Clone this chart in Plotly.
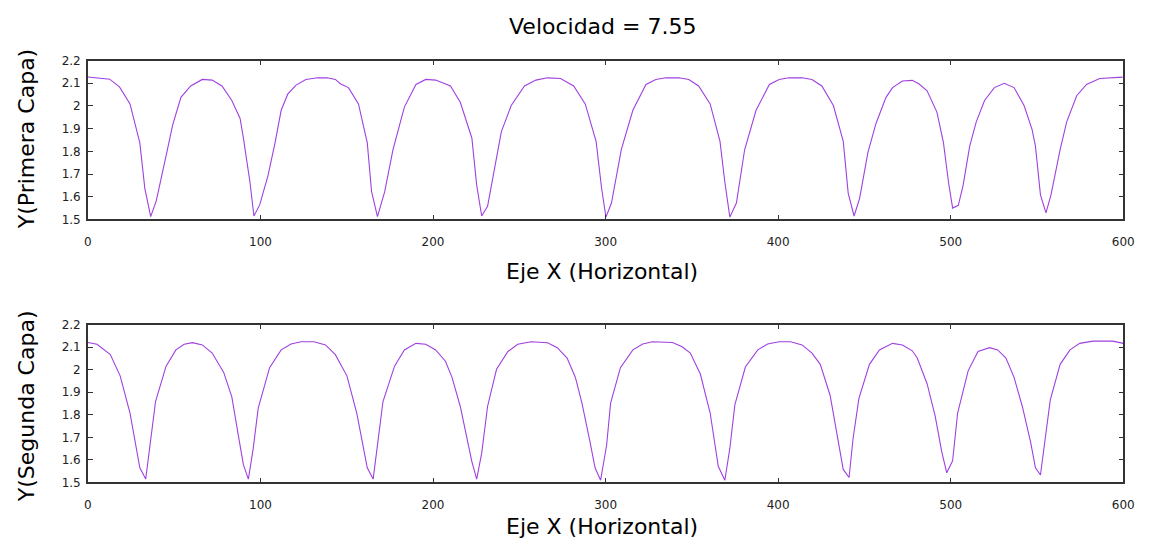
import plotly.graph_objects as go

# ---- data ----
x_primera = [0, 12.6, 18.3, 24.4, 30.1, 33.0, 36.4, 39.6, 45.3, 49.1, 53.9, 59.6, 66.3, 72.0, 77.7,
             83.4, 88.2, 90.1, 93.9, 96.2, 99.6, 104.4, 108.5, 112.0, 115.8, 120.6, 126.3, 133.0,
             138.7, 143.4, 146.3, 151.0, 156.8, 161.9, 164.4, 167.8, 172.0, 176.8, 183.4, 190.1,
             195.8, 201.5, 210.1, 215.8, 222.5, 225.3, 228.2, 231.6, 239.6, 245.3, 253.0, 259.6,
             266.3, 273.9, 281.5, 288.2, 294.5, 297.7, 300.2, 303.4, 309.1, 315.8, 323.4, 329.1,
             334.9, 342.5, 348.2, 353.9, 360.6, 366.3, 369.1, 372.0, 375.8, 380.6, 387.2, 394.9,
             400.6, 406.3, 413.9, 419.6, 425.3, 432.0, 437.7, 440.6, 444.0, 447.2, 452.0, 456.7,
             462.5, 466.3, 472.0, 477.7, 481.5, 486.3, 492.0, 495.8, 498.7, 501.1, 504.4, 507.2,
             511.0, 514.8, 519.6, 525.3, 531.0, 536.7, 542.5, 547.2, 549.1, 552.0, 555.2, 558.1,
             563.4, 567.2, 573.0, 578.7, 586.3, 592.0, 599.6]
y_primera = [2.128, 2.118, 2.084, 2.009, 1.837, 1.636, 1.512, 1.582, 1.780, 1.916, 2.038, 2.088, 2.117, 2.114, 2.088,
             2.024, 1.945, 1.859, 1.665, 1.515, 1.565, 1.694, 1.840, 1.981, 2.052, 2.092, 2.117, 2.124,
             2.124, 2.117, 2.098, 2.081, 2.009, 1.837, 1.622, 1.512, 1.622, 1.808, 1.995, 2.095,
             2.117, 2.114, 2.088, 2.016, 1.859, 1.651, 1.515, 1.558, 1.887, 2.002, 2.088, 2.114,
             2.124, 2.121, 2.088, 2.009, 1.844, 1.636, 1.510, 1.572, 1.808, 1.981, 2.095, 2.117,
             2.124, 2.124, 2.117, 2.088, 2.009, 1.844, 1.665, 1.510, 1.572, 1.808, 1.981, 2.095,
             2.117, 2.124, 2.124, 2.117, 2.088, 2.002, 1.845, 1.615, 1.515, 1.593, 1.794, 1.923,
             2.038, 2.081, 2.110, 2.113, 2.098, 2.067, 1.973, 1.837, 1.665, 1.550, 1.562, 1.651,
             1.823, 1.930, 2.024, 2.081, 2.100, 2.081, 2.002, 1.895, 1.823, 1.608, 1.529, 1.608,
             1.808, 1.930, 2.045, 2.095, 2.121, 2.124, 2.127]

x_segunda = [0, 5.3, 13.0, 18.7, 24.4, 30.1, 33.5, 35.8, 39.2, 45.3, 51.0, 55.8, 60.6, 66.3, 72.0,
             78.7, 83.4, 87.2, 90.1, 93.0, 95.8, 98.7, 105.3, 112.0, 117.7, 123.4, 131.0, 137.7,
             143.4, 150.1, 155.8, 161.9, 165.3, 171.0, 177.7, 183.4, 190.1, 195.8, 201.5, 207.2,
             211.0, 215.8, 222.5, 225.3, 228.2, 231.6, 236.8, 243.4, 249.1, 256.8, 266.3, 272.0,
             277.7, 282.5, 286.3, 291.0, 293.9, 297.1, 300.6, 302.9, 308.6, 315.8, 321.5, 327.2,
             338.7, 344.4, 349.1, 354.9, 360.6, 365.3, 369.1, 372.0, 374.9, 381.0, 388.2, 393.9,
             400.6, 407.2, 413.9, 419.6, 424.4, 430.1, 434.9, 437.7, 441.1, 443.4, 446.8, 450.1,
             452.9, 458.7, 466.3, 472.0, 477.7, 480.6, 486.3, 491.0, 494.8, 497.7, 501.1, 504.0,
             510.1, 515.8, 522.5, 527.2, 532.0, 536.7, 541.5, 546.3, 549.1, 552.0, 554.3, 557.7,
             563.4, 569.1, 574.8, 582.5, 593.9, 600.0]
y_segunda = [2.121, 2.113, 2.067, 1.973, 1.808, 1.565, 1.515, 1.665, 1.859, 2.016, 2.088, 2.113, 2.120, 2.110, 2.074,
             1.988, 1.880, 1.708, 1.579, 1.515, 1.651, 1.830, 2.009, 2.088, 2.114, 2.124, 2.124, 2.110,
             2.067, 1.973, 1.808, 1.565, 1.515, 1.859, 2.016, 2.088, 2.117, 2.113, 2.088, 2.038,
             1.966, 1.837, 1.593, 1.515, 1.630, 1.837, 2.002, 2.081, 2.113, 2.124, 2.120, 2.098,
             2.052, 1.966, 1.852, 1.679, 1.565, 1.510, 1.665, 1.852, 2.009, 2.088, 2.114, 2.124,
             2.121, 2.102, 2.074, 1.981, 1.808, 1.572, 1.510, 1.651, 1.844, 2.012, 2.088, 2.114,
             2.124, 2.124, 2.110, 2.074, 2.024, 1.887, 1.679, 1.558, 1.522, 1.694, 1.873, 1.959,
             2.024, 2.088, 2.117, 2.110, 2.084, 2.052, 1.938, 1.794, 1.636, 1.543, 1.596, 1.808,
             1.995, 2.081, 2.098, 2.088, 2.052, 1.966, 1.837, 1.679, 1.565, 1.533, 1.665, 1.866,
             2.024, 2.088, 2.117, 2.127, 2.127, 2.117]

x_ticks = [0, 100, 200, 300, 400, 500, 600]
y_ticks = [1.5, 1.6, 1.7, 1.8, 1.9, 2.0, 2.1, 2.2]
y_tick_labels = ["1.5", "1.6", "1.7", "1.8", "1.9", "2", "2.1", "2.2"]

titulo = "Velocidad = 7.55"
titulo_x = "Eje X (Horizontal)"
titulo_y1 = "Y(Primera Capa)"
titulo_y2 = "Y(Segunda Capa)"

# ---- figure ----
W, H = 1156, 546
FONT = "DejaVu Sans"
LINE_COLOR = "#a040e0"
AXIS_COLOR = "#333333"
BIG = 22
SMALL = 12

fig = go.Figure()
fig.add_trace(go.Scatter(x=x_primera, y=y_primera, mode="lines",
                         line=dict(color=LINE_COLOR, width=1.1), xaxis="x", yaxis="y",
                         showlegend=False, hoverinfo="skip"))
fig.add_trace(go.Scatter(x=x_segunda, y=y_segunda, mode="lines",
                         line=dict(color=LINE_COLOR, width=1.1), xaxis="x2", yaxis="y2",
                         showlegend=False, hoverinfo="skip"))

xdom = [85 / W, 1134 / W]
ydom1 = [1 - 218 / H, 1 - 55 / H]
ydom2 = [1 - 488 / H, 1 - 326 / H]

xax = dict(range=[0, 600], tickvals=x_ticks, ticktext=[str(v) for v in x_ticks],
           ticks="inside", ticklen=5, tickcolor=AXIS_COLOR, tickwidth=1,
           showline=True, linecolor=AXIS_COLOR, linewidth=1.5, mirror="ticks",
           showgrid=False, zeroline=False, domain=xdom, fixedrange=True,
           tickfont=dict(family=FONT, size=SMALL, color="#222"), ticklabelstandoff=10)
yax = dict(range=[1.5, 2.2], tickvals=y_ticks, ticktext=y_tick_labels,
           ticks="inside", ticklen=5, tickcolor=AXIS_COLOR, tickwidth=1,
           showline=True, linecolor=AXIS_COLOR, linewidth=1.5, mirror="ticks",
           showgrid=False, zeroline=False, fixedrange=True,
           tickfont=dict(family=FONT, size=SMALL, color="#222"), ticklabelstandoff=3)


def label(text, x, y, angle=0):
    return dict(text=text, x=x / W, y=1 - y / H, xref="paper", yref="paper",
                xanchor="center", yanchor="middle", showarrow=False, textangle=angle,
                font=dict(family=FONT, size=BIG, color="black"))


fig.update_layout(
    width=W, height=H,
    margin=dict(l=0, r=0, t=0, b=0),
    paper_bgcolor="white", plot_bgcolor="white",
    font=dict(family=FONT, color="black"),
    xaxis=dict(xax, anchor="y"),
    yaxis=dict(yax, domain=ydom1, anchor="x"),
    xaxis2=dict(xax, anchor="y2"),
    yaxis2=dict(yax, domain=ydom2, anchor="x2"),
    annotations=[
        label(titulo, 606, 20.5),
        label(titulo_x, 606, 271),
        label(titulo_x, 606, 533),
        label(titulo_y1, 23, 136, -90),
        label(titulo_y2, 23, 410, -90),
    ],
)

fig.write_html("out.html",
               config={"displayModeBar": False},
               post_script="document.body.style.margin='0';"
                           "document.body.style.overflow='hidden';")
